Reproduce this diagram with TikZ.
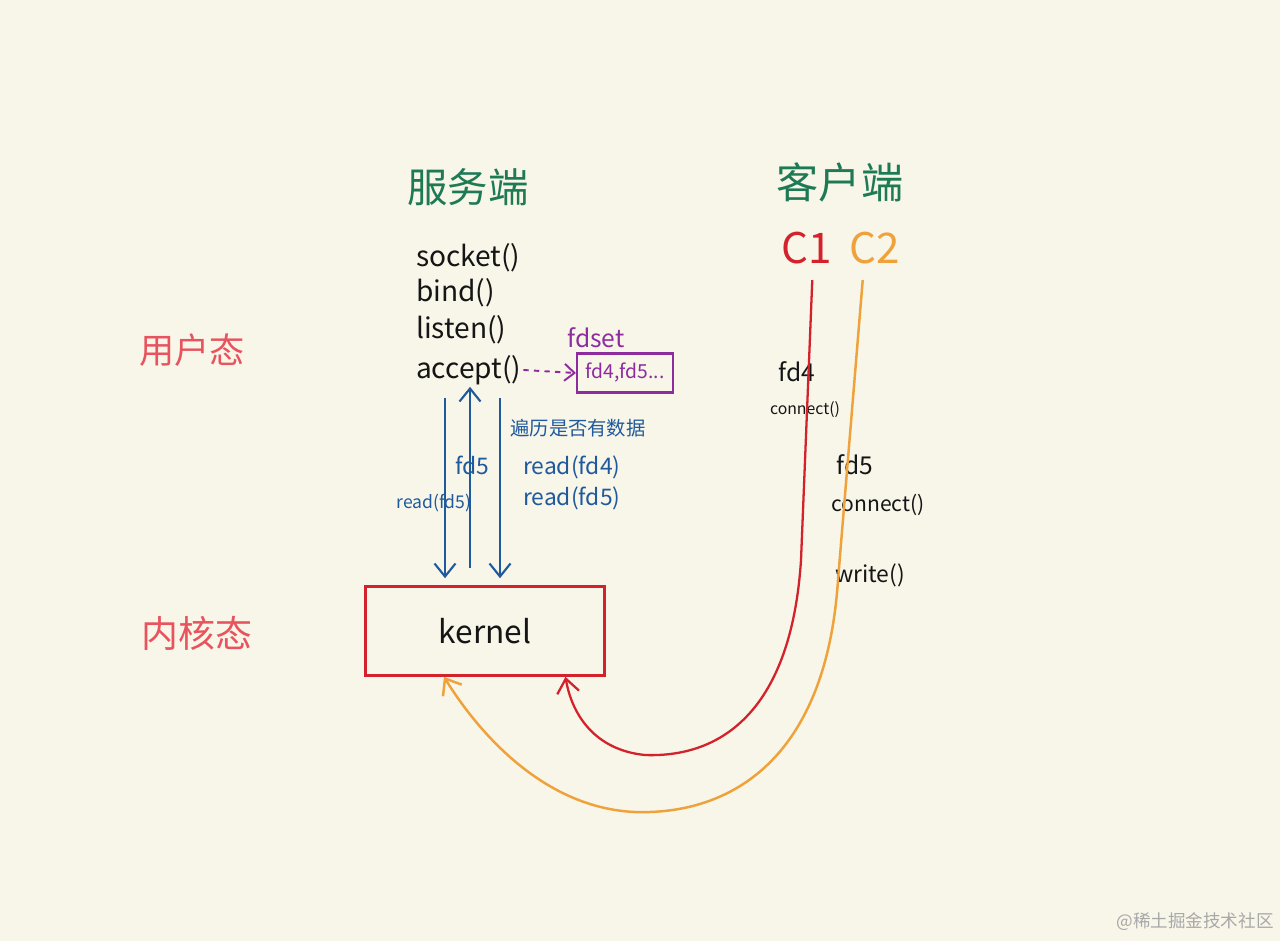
\documentclass[tikz,border=0pt]{standalone}
\usepackage{fontspec}
\setmainfont{Noto Sans CJK SC}
\usepackage{xcolor}
\usepackage{tikz}
\usetikzlibrary{positioning,arrows.meta,calc}
\definecolor{SKpaper}{HTML}{F8F5E9}
\definecolor{SKink}{HTML}{151515}
\definecolor{SKgreen}{HTML}{1D7A55}
\definecolor{SKred}{HTML}{D3222B}
\definecolor{SKorange}{HTML}{F0A23A}
\definecolor{SKblue}{HTML}{1F5A9C}
\definecolor{SKpurple}{HTML}{8E2C9E}
\definecolor{SKpink}{HTML}{E8545E}
\definecolor{SKgray}{HTML}{A8A8A8}
\newcommand{\fsz}[1]{\fontsize{#1}{#1}\selectfont}
\tikzset{
  titletext/.style={font=\fsz{23}, text=SKgreen, inner sep=1pt},
  statetext/.style={font=\fsz{20}, text=SKpink, inner sep=1pt},
  calltext/.style={font=\fsz{16}, text=SKink, inner sep=1pt, anchor=west},
  clienttext/.style={font=\fsz{24}, inner sep=1pt},
  bluetext/.style={font=\fsz{13}, text=SKblue, inner sep=1pt},
  smallink/.style={font=\fsz{12}, text=SKink, inner sep=1pt},
  kernelbox/.style={draw=SKred, line width=1.5pt, minimum width=4.78cm, minimum height=1.78cm, font=\fsz{18}, text=SKink},
  setbox/.style={draw=SKpurple, line width=1.2pt, minimum width=1.92cm, minimum height=0.78cm, font=\fsz{11}, text=SKpurple, inner sep=1pt},
  bluearr/.style={-{Straight Barb[length=2.6mm,width=4.2mm]}, line width=1.2pt, draw=SKblue},
  dasharr/.style={-{Straight Barb[length=2mm,width=3.4mm]}, line width=1.1pt, draw=SKpurple, dashed},
  c1line/.style={-{Straight Barb[length=2.8mm,width=4.4mm]}, line width=1.3pt, draw=SKred},
  c2line/.style={-{Straight Barb[length=2.8mm,width=4.4mm]}, line width=1.4pt, draw=SKorange}
}
\begin{document}
\begin{tikzpicture}[x=0.02cm, y=-0.02cm]
\fill[SKpaper] (0,0) rectangle (1280,941);

\node[titletext] (server) at (468,187) {服务端};
\node[titletext, font=\fsz{24}] (client) at (840,182) {客户端};
\node[statetext] (user) at (192,350) {用户态};
\node[statetext, font=\fsz{21}] (kstate) at (197,633) {内核态};

\node[calltext] (socket) at (414,258) {socket()};
\node[calltext] (bind) at (414,293) {bind()};
\node[calltext] (listen) at (414,330) {listen()};
\node[calltext] (accept) at (414,370) {accept()};

\node[font=\fsz{14}, text=SKpurple, inner sep=1pt] (fdset) at (596,338) {fdset};
\node[setbox] (fds) at (625,373) {fd4,fd5...};
\draw[dasharr] (accept.east) -- (fds.west);

\node[kernelbox] (kernel) at (485,631) {kernel};

\coordinate (r1top) at (445,398);
\coordinate (r2bot) at (470,568);
\coordinate (r3top) at (500,398);
\draw[bluearr, shorten >=4pt] (r1top) -- (r1top |- kernel.north);
\draw[bluearr] (r2bot) -- (r2bot |- accept.south);
\draw[bluearr, shorten >=4pt] (r3top) -- (r3top |- kernel.north);

\node[bluetext] (fdfive) at (472,465) {fd5};
\node[bluetext, font=\fsz{10}] (readleft) at (434,503) {read(fd5)};
\node[bluetext, font=\fsz{11}] (scan) at (578,428) {遍历是否有数据};
\node[bluetext, anchor=west] (readfour) at (521,467) {read(fd4)};
\node[bluetext, anchor=west] (readfive) at (521,498) {read(fd5)};

\node[clienttext, text=SKred] (c1) at (807,248) {C1};
\node[clienttext, text=SKorange] (c2) at (875,248) {C2};

\node[smallink, font=\fsz{14}] (fdfour) at (797,372) {fd4};
\node[smallink, font=\fsz{9}] (conn1) at (805,410) {connect()};
\node[smallink, font=\fsz{14}] (fdfiveb) at (855,465) {fd5};
\node[smallink] (conn2) at (878,505) {connect()};
\node[smallink, font=\fsz{13}] (write) at (870,575) {write()};

\draw[c1line] ([xshift=3pt,yshift=-8pt]c1.south) -- (801,560)
  .. controls (792,700) and (730,758) .. (645,755)
  .. controls (595,750) and (572,715) .. ($(kernel.south west)!0.833!(kernel.south east)$);
\draw[c2line] ([xshift=-7pt,yshift=-8pt]c2.south) -- (838,580)
  .. controls (826,760) and (730,815) .. (635,812)
  .. controls (545,808) and (480,735) .. ($(kernel.south west)!0.33!(kernel.south east)$);

\node[font=\fsz{10}, text=SKgray, inner sep=0pt] (mark) at (1195,922) {@稀土掘金技术社区};
\end{tikzpicture}
\end{document}
